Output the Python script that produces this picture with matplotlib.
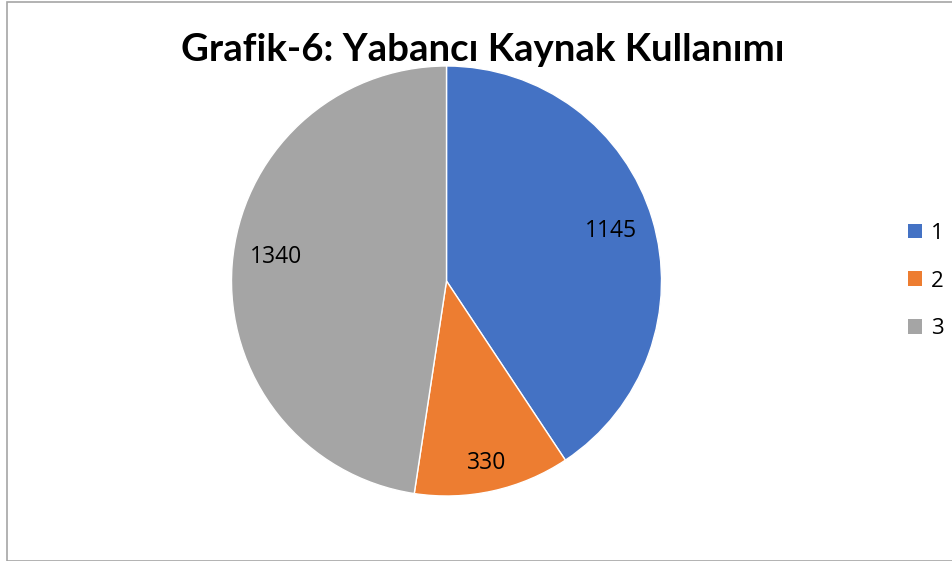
import numpy as np
import matplotlib.pyplot as plt
from matplotlib.patches import Rectangle

categories = ["1", "2", "3"]
values = [1145, 330, 1340]
colors = ["#4472C4", "#ED7D31", "#A5A5A5"]
title = "Grafik-6: Yabancı Kaynak Kullanımı"

# label placement: fraction of radius and small angle nudge (deg) per slice
label_radius = [0.80, 0.865, 0.80]
label_nudge = [0.0, 0.0, -3.7]

W, H = 952, 561
fig = plt.figure(figsize=(W / 100, H / 100), dpi=100)
fig.patch.set_facecolor("white")

cx, cy, r = 446.5, 281, 215
ax = fig.add_axes([(cx - r) / W, (H - cy - r) / H, 2 * r / W, 2 * r / H])

wedges, _ = ax.pie(values, colors=colors, startangle=90, counterclock=False,
                   radius=1, wedgeprops=dict(edgecolor="white", linewidth=1))
ax.set_xlim(-1, 1)
ax.set_ylim(-1, 1)
ax.set_aspect("auto")
ax.axis("off")

for w, v, k, d in zip(wedges, values, label_radius, label_nudge):
    ang = np.deg2rad((w.theta1 + w.theta2) / 2 + d)
    ax.text(k * np.cos(ang), k * np.sin(ang), str(v), ha="center", va="center",
            fontsize=16.5, family="Open Sans", color="black")

fig.text(483 / W, 1 - 50 / H, title, ha="center", va="center",
         fontsize=27.6, fontweight="bold", family="Lato", color="black")

leg = fig.legend(wedges, categories, loc="center left",
                 bbox_to_anchor=(897 / W, 1 - 281 / H), frameon=False,
                 prop=dict(family="Open Sans", size=16),
                 handlelength=0.62, handleheight=0.62, handletextpad=0.4,
                 labelspacing=1.2, borderpad=0)
for h in leg.legend_handles:
    h.set_edgecolor("none")

# outer chart border
fig.add_artist(Rectangle((7 / W, 0.5 / H), 1.0, 1 - 2 / H, transform=fig.transFigure,
                         fill=False, edgecolor="#A6A6A6", linewidth=1.2))

fig.savefig("out.png", dpi=100)
